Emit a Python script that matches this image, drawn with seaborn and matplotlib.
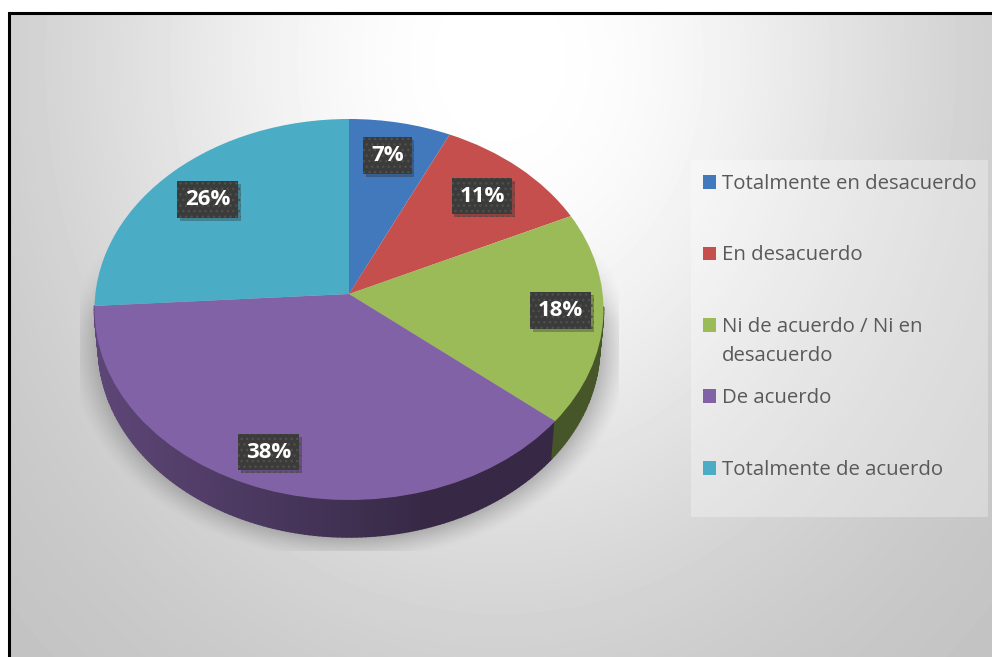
import numpy as np
import matplotlib
matplotlib.use("Agg")
import matplotlib.pyplot as plt
import matplotlib.patheffects as pe
from matplotlib.collections import PolyCollection
from matplotlib.patches import Rectangle
from matplotlib.transforms import Transform
import seaborn as sns

categories = [
    "Totalmente en desacuerdo",
    "En desacuerdo",
    "Ni de acuerdo / Ni en",
    "De acuerdo",
    "Totalmente de acuerdo",
]
wrapped_line = "desacuerdo"
shares = [7, 11, 18, 38, 26]
slice_colors = ["#4279BD", "#C44F4C", "#9BBB59", "#8262A6", "#4BACC6"]

W, H = 992, 657
CX, CY = 349.0, 309.5     # centre of the tilted rim
RX, RY = 254.5, 190.5     # rim half-axes
TILT = 15.5 / RY          # perspective strength of the tilted disc
DEPTH = 37.0              # thickness of the disc
BASE_SCALE = 0.985        # the far rim of the wall looks slightly narrower

sns.set_theme(style="white")
plt.rcParams["font.family"] = ["Open Sans", "DejaVu Sans"]


class TiltedDisc(Transform):
    """Projects the unit circle of a pie onto a disc seen in perspective."""
    input_dims = output_dims = 2
    is_separable = False

    def transform_non_affine(self, values):
        values = np.asarray(values, dtype=float)
        u, v = values[:, 0], values[:, 1]
        w = 1 + TILT * v
        x = CX + RX * np.sqrt(1 - TILT ** 2) * u / w
        y = CY - RY * (v + TILT) / w
        return np.column_stack([x, y])


def rim_point(theta):
    """Rim position for an angle in degrees, counted anticlockwise from +x."""
    t = np.radians(theta)
    return TiltedDisc().transform_non_affine(np.column_stack([np.cos(t), np.sin(t)]))


def base_point(p):
    """Point on the lower rim of the wall beneath a rim point."""
    return np.array([CX + (p[0] - CX) * BASE_SCALE, p[1] + DEPTH])


fig = plt.figure(figsize=(W / 100, H / 100), dpi=100, facecolor="white")
ax = fig.add_axes([0, 0, 1, 1])

# Panel background: white around the upper middle, grey towards the edges.
px, py = np.meshgrid(np.arange(8, W), np.arange(12, H))
dist = np.hypot((px - 500) / 510, (py - 60) / 620)
shade = 1.0 - 0.25 * (1 - np.exp(-(dist / 0.85) ** 2.2))
ax.imshow(shade, cmap="gray", vmin=0, vmax=1, extent=(8, W, H, 12), zorder=0, aspect="auto")

# Soft shadow thrown by the disc on to the panel.
sx, sy = np.meshgrid(np.arange(80, 619), np.arange(240, 551))
d = np.hypot((sx - CX) / 270, (sy - 345) / 207)
fall = np.clip((1.04 - d) / 0.13, 0, 1)
fade = np.clip((sy - 240) / 80, 0, 1)
rgba = np.zeros(sx.shape + (4,))
rgba[..., :3] = 0.45
rgba[..., 3] = 0.55 * fall ** 1.3 * fade
ax.imshow(rgba, extent=(80, 619, 551, 240), zorder=1, aspect="auto")

# Pie surface: real pie wedges sent through the perspective transform.
wedges, _ = ax.pie(
    shares, colors=slice_colors, startangle=90, counterclock=False,
    labels=None, frame=True, wedgeprops={"linewidth": 0},
)
disc = TiltedDisc() + ax.transData
for wedge in wedges:
    wedge.set_transform(disc)
    wedge.set_zorder(4)

# Side wall of the disc, built in narrow strips to carry its shading.
wall_polys, wall_colors = [], []
green, purple = wedges[2], wedges[3]
for wedge, color in ((purple, slice_colors[3]), (green, slice_colors[2])):
    lo, hi = wedge.theta1, wedge.theta2
    if wedge is green:
        hi = lo + (hi - lo) * 0.55   # only the front of this slice shows a wall
    angles = np.arange(lo, hi, 1.0)
    angles = np.append(angles, hi)
    rim = rim_point(angles)
    base = np.array(sns.desaturate(color, 1.0))
    for i in range(len(angles) - 1):
        a, b = rim[i], rim[i + 1]
        wall_polys.append([a, b, base_point(b), base_point(a)])
        # darker towards the lower right of the disc
        k = np.clip((a[0] - 94) / 330, 0, 1)
        wall_colors.append(base * (0.72 - 0.30 * k) if wedge is purple else base * 0.46)
ax.add_collection(PolyCollection(wall_polys, facecolors=wall_colors, edgecolors=wall_colors,
                                 linewidths=1.1, zorder=3))

# Percentage labels on dark plates.
label_centres = [(387.5, 155.5), (482, 196), (560.5, 310.5), (268.5, 452), (207.5, 199.5)]
for share, (lx, ly) in zip(shares, label_centres):
    label = ax.text(
        lx, ly, f"{share}%", color="white", fontsize=16, fontweight="bold",
        ha="center", va="center", zorder=6,
        bbox=dict(boxstyle="square,pad=0.35", fc="#3B3B3B", ec="#50504A", lw=0, hatch="..."),
    )
    label.get_bbox_patch().set_path_effects([
        pe.SimplePatchShadow(offset=(2, -2), alpha=0.3, shadow_rgbFace="#222222"),
        pe.Normal(),
    ])

# Translucent panel behind the legend entries.
ax.add_patch(Rectangle((691, 160), 297, 357, facecolor="white", alpha=0.3,
                       edgecolor="none", zorder=2))

legend = ax.legend(
    wedges, categories, loc="upper left", bbox_to_anchor=(703, 174),
    bbox_transform=ax.transData, fontsize=14.65, labelcolor="#595959",
    frameon=False, labelspacing=2.53, handlelength=0.65, handleheight=0.65,
    handletextpad=0.3, borderaxespad=0, borderpad=0,
)
legend.set_zorder(5)

# Second line of the long entry hangs below its row.
ax.annotate(
    wrapped_line, xy=(0, 0), xycoords=legend.get_texts()[2],
    xytext=(0, -21), textcoords="offset points", va="bottom", ha="left",
    fontsize=14.65, color="#595959", zorder=6,
)

# Black outline along the top and left of the panel.
ax.plot([8.5, 8.5, W], [H, 12.5, 12.5], color="black", lw=2.2, zorder=7, solid_joinstyle="miter")

ax.set_xlim(0, W)
ax.set_ylim(H, 0)
ax.set_aspect("auto")
ax.set_axis_off()
fig.savefig("out.png", dpi=100)
